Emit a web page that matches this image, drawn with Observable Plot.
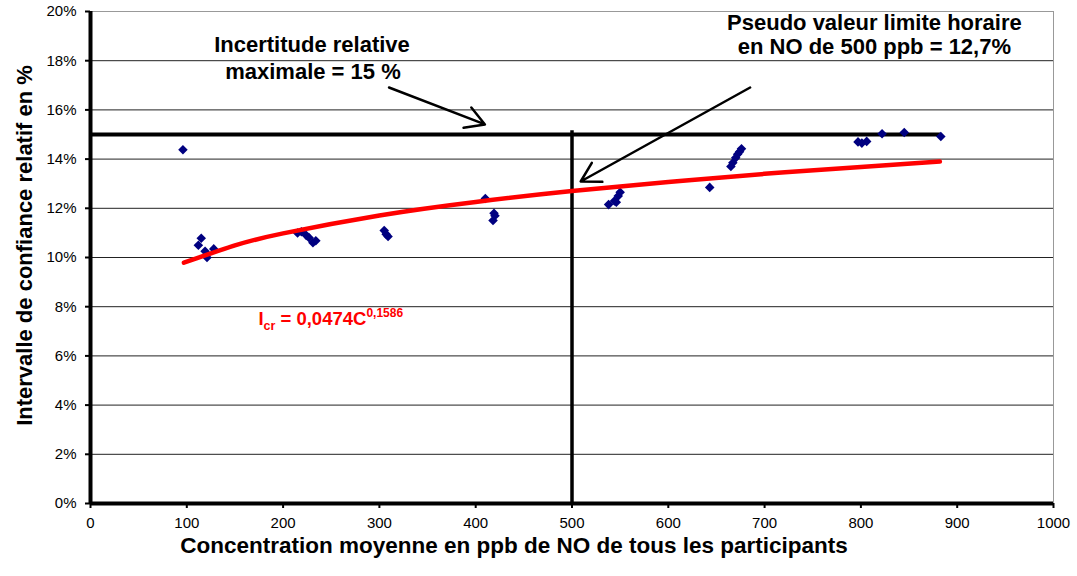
<!DOCTYPE html>
<html>
<head>
<meta charset="utf-8">
<script src="https://cdn.jsdelivr.net/npm/d3@7"></script>
<script src="https://cdn.jsdelivr.net/npm/@observablehq/plot@0.6"></script>
<style>
  html, body { margin: 0; padding: 0; background: #fff; }
  #chart { width: 1077px; height: 576px; }
</style>
</head>
<body>
<div id="chart"></div>
<script>
// Observed data: NO concentration (ppb) vs relative confidence interval (%)
const concentration = [96, 112, 115, 119, 121, 128, 215, 219, 224, 227, 231, 234, 305, 307, 309, 410, 418, 419, 420, 538, 544, 546, 548, 550, 643, 665, 667, 670, 672, 674, 676, 797, 801, 806, 822, 845, 883];
const intervalle   = [14.38, 10.5, 10.78, 10.25, 10.0, 10.35, 11.0, 11.05, 10.9, 10.8, 10.6, 10.68, 11.1, 10.95, 10.85, 12.4, 11.5, 11.8, 11.7, 12.15, 12.3, 12.25, 12.5, 12.65, 12.85, 13.7, 13.85, 14.05, 14.2, 14.3, 14.42, 14.7, 14.65, 14.72, 15.03, 15.08, 14.92];

// Trend curve
const trendX = [97, 150, 200, 300, 400, 500, 600, 700, 800, 882];
const trendY = [9.79, 10.49, 10.98, 11.71, 12.26, 12.70, 13.07, 13.40, 13.68, 13.90];

// Axis ticks
const xTicks = [0, 100, 200, 300, 400, 500, 600, 700, 800, 900, 1000];
const yTicks = [0, 2, 4, 6, 8, 10, 12, 14, 16, 18, 20];

// Reference values
const limitePct = [15];
const limiteEnd = [883];
const valeurHoraire = [500];

const points = concentration.map((c, i) => ({c, v: intervalle[i]}));
const trend = trendX.map((c, i) => ({c, v: trendY[i]}));

const bold = {fontWeight: "bold", fontSize: 22, fill: "#000"};

const chart = Plot.plot({
  width: 1077,
  height: 576,
  marginLeft: 90,
  marginRight: 24,
  marginTop: 11,
  marginBottom: 73,
  x: {domain: [0, 1000]},
  y: {domain: [0, 20]},
  style: {fontFamily: "'Liberation Sans', Arial, sans-serif", fontSize: "15px", color: "#000", background: "#fff"},
  marks: [
    Plot.ruleY(yTicks.filter(d => d > 0 && d < 20), {stroke: "#222", strokeWidth: 1}),
    Plot.ruleY([20], {stroke: "#999", strokeWidth: 1}),
    Plot.ruleX([1000], {stroke: "#999", strokeWidth: 1}),
    Plot.axisX({ticks: xTicks, tickSize: 5, tickPadding: 9, tickFormat: d => String(d), label: null, strokeWidth: 2, fontSize: 15}),
    Plot.axisY({ticks: yTicks, tickSize: 5, tickPadding: 9, tickFormat: d => d + "%", label: null, strokeWidth: 2, fontSize: 15}),
    Plot.ruleY([0], {stroke: "#000", strokeWidth: 4}),
    Plot.ruleX([0], {stroke: "#000", strokeWidth: 4}),
    Plot.ruleY(limitePct, {x1: 0, x2: limiteEnd[0], stroke: "#000", strokeWidth: 4}),
    Plot.ruleX(valeurHoraire, {y1: 0, y2: 15.15, stroke: "#000", strokeWidth: 3.5}),
    Plot.dot(points, {x: "c", y: "v", symbol: "diamond2", r: 4.3, fill: "#000080", stroke: "none"}),
    Plot.line(trend, {x: "c", y: "v", stroke: "#ff0000", strokeWidth: 4.5, curve: "natural"}),
    Plot.arrow([{x1: 310, y1: 16.91, x2: 409.6, y2: 15.41}], {x1: "x1", y1: "y1", x2: "x2", y2: "y2", stroke: "#000", strokeWidth: 2.5, headLength: 13}),
    Plot.arrow([{x1: 685, y1: 16.91, x2: 509, y2: 13.09}], {x1: "x1", y1: "y1", x2: "x2", y2: "y2", stroke: "#000", strokeWidth: 2.5, headLength: 13}),
    Plot.text(["Incertitude relative"], {x: 230, y: 18.66, ...bold}),
    Plot.text(["maximale = 15 %"], {x: 231, y: 17.56, ...bold}),
    Plot.text(["Pseudo valeur limite horaire"], {x: 814, y: 19.55, ...bold}),
    Plot.text(["en NO de 500 ppb = 12,7%"], {x: 814, y: 18.54, ...bold}),
    Plot.text(["Concentration moyenne en ppb de NO de tous les participants"], {frameAnchor: "bottom", dx: -58, dy: 49, ...bold, fontSize: 22.5}),
    Plot.text(["Intervalle de confiance relatif en %"], {frameAnchor: "left", textAnchor: "middle", dx: -66, dy: -12, rotate: -90, ...bold})
  ]
});

document.getElementById("chart").appendChild(chart);

// Formula label with subscript / superscript
const sx = chart.scale("x"), sy = chart.scale("y");
const t = d3.select(chart).append("text")
  .attr("x", sx.apply(250))
  .attr("y", sy.apply(7.24))
  .attr("fill", "#ff0000")
  .attr("font-weight", "bold")
  .attr("font-size", 18.5)
  .attr("font-family", "'Liberation Sans', Arial, sans-serif");
t.append("tspan").text("I");
t.append("tspan").attr("font-size", 12.5).attr("dy", 5).text("cr");
t.append("tspan").attr("dy", -5).text(" = 0,0474C");
t.append("tspan").attr("font-size", 12).attr("dy", -8).text("0,1586");
</script>
</body>
</html>
